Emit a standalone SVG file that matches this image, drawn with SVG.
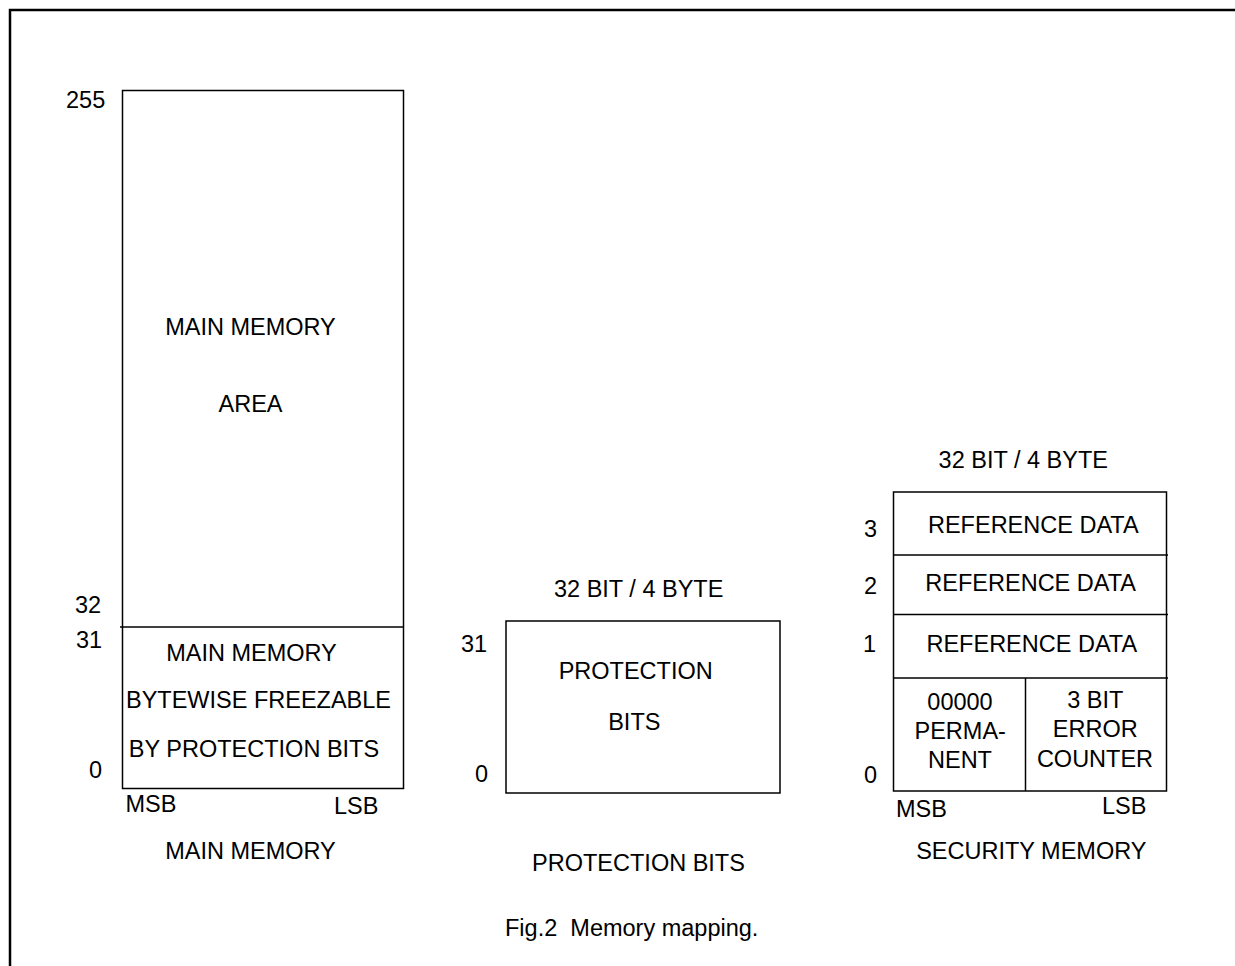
<svg xmlns="http://www.w3.org/2000/svg" width="1235" height="966" viewBox="0 0 1235 966">
<style>
text{font-family:"Liberation Sans",Arial,sans-serif;font-size:23.5px;fill:#000}
.m{text-anchor:middle}
.b{fill:none;stroke:#000;stroke-width:1.5}
</style>
<rect x="0" y="0" width="1235" height="966" fill="#fff"/>
<rect x="10" y="10" width="1240" height="980" fill="none" stroke="#000" stroke-width="2.5"/>
<g id="main-memory">
<rect class="b" x="122.5" y="90.5" width="281" height="698"/>
<line class="b" x1="120" y1="627" x2="403.5" y2="627"/>
<text x="66" y="108">255</text>
<text x="75" y="613">32</text>
<text x="76" y="648">31</text>
<text x="89" y="778">0</text>
<text class="m" x="250.5" y="335">MAIN MEMORY</text>
<text class="m" x="250.5" y="412">AREA</text>
<text class="m" x="251.5" y="661">MAIN MEMORY</text>
<text class="m" x="258.5" y="708">BYTEWISE FREEZABLE</text>
<text class="m" x="254" y="757">BY PROTECTION BITS</text>
<text x="125.5" y="812">MSB</text>
<text x="334" y="814">LSB</text>
<text class="m" x="250.5" y="859">MAIN MEMORY</text>
</g>
<g id="protection-bits">
<rect class="b" x="506" y="621" width="274" height="172"/>
<text class="m" x="638.7" y="597">32 BIT / 4 BYTE</text>
<text x="461" y="652">31</text>
<text x="475" y="782">0</text>
<text class="m" x="635.7" y="679">PROTECTION</text>
<text class="m" x="634.3" y="730">BITS</text>
<text class="m" x="638.5" y="871">PROTECTION BITS</text>
</g>
<g id="security-memory">
<rect class="b" x="893.5" y="492" width="273" height="299"/>
<line class="b" x1="893.5" y1="555" x2="1168" y2="555"/>
<line class="b" x1="893.5" y1="614.5" x2="1168" y2="614.5"/>
<line class="b" x1="893.5" y1="678" x2="1168" y2="678"/>
<line class="b" x1="1025.5" y1="678" x2="1025.5" y2="791"/>
<text class="m" x="1023.3" y="468">32 BIT / 4 BYTE</text>
<text x="864" y="537">3</text>
<text x="864" y="594">2</text>
<text x="863" y="652">1</text>
<text x="864" y="783">0</text>
<text class="m" x="1033.3" y="533">REFERENCE DATA</text>
<text class="m" x="1030.7" y="591">REFERENCE DATA</text>
<text class="m" x="1031.8" y="652">REFERENCE DATA</text>
<text class="m" x="960" y="710">00000</text>
<text class="m" x="960.2" y="739">PERMA-</text>
<text class="m" x="960" y="768">NENT</text>
<text class="m" x="1095.3" y="708">3 BIT</text>
<text class="m" x="1095.3" y="737">ERROR</text>
<text class="m" x="1095" y="767">COUNTER</text>
<text x="896" y="817">MSB</text>
<text x="1102" y="814">LSB</text>
<text class="m" x="1031.3" y="859">SECURITY MEMORY</text>
</g>
<text x="505" y="936" xml:space="preserve">Fig.2  Memory mapping.</text>
</svg>
